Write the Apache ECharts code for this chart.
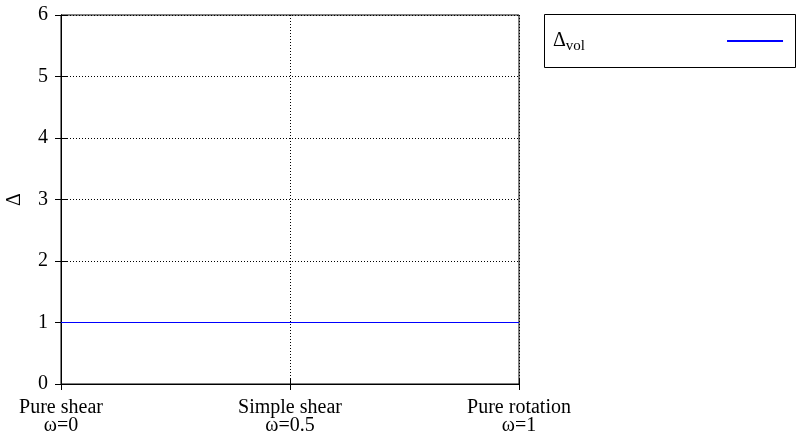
<!DOCTYPE html>
<html>
<head>
<meta charset="utf-8">
<script src="https://cdn.jsdelivr.net/npm/echarts@6/dist/echarts.min.js"></script>
<style>
  html, body { margin: 0; padding: 0; background: #fff; }
  #main { width: 796px; height: 435px; }
</style>
</head>
<body>
<div id="main"></div>
<script>
// flow type positions along x and their labels
const xTicks = [0, 0.5, 1]
const xLabels = ['Pure shear\nω=0', 'Simple shear\nω=0.5', 'Pure rotation\nω=1']
// Δ_vol stays constant
const omega = [0, 1]
const deltaVol = [1, 1]

const font = 'Liberation Serif'
const chart = echarts.init(document.getElementById('main'))

const lineData = omega.map((w, i) => [w, deltaVol[i]])

chart.setOption({
  backgroundColor: '#fff',
  animation: false,
  textStyle: { fontFamily: font },
  grid: {
    left: 61, right: 277, top: 15, bottom: 51,
    outerBoundsMode: 'none',
    containLabel: false,
    show: true, borderColor: '#000', borderWidth: 1
  },
  legend: {
    data: ['vol'],
    left: 548, top: 26,
    align: 'right',
    itemWidth: 56,
    itemHeight: 10,
    icon: 'path://M0,4 L56,4 L56,6 L0,6 Z',
    formatter: function () { return '{a|Δ}{b|vol}{c|}' },
    textStyle: {
      rich: {
        a: { fontFamily: font, fontSize: 20, color: '#000' },
        b: { fontFamily: font, fontSize: 15, color: '#000', padding: [10, 0, 0, 0] },
        c: { width: 137 }
      }
    }
  },
  graphic: [{
    type: 'rect',
    shape: { x: 544.5, y: 14.5, width: 251, height: 53 },
    style: { fill: 'none', stroke: '#000', lineWidth: 1 }
  }],
  xAxis: [{
    type: 'value', min: 0, max: 1, interval: 0.5,
    axisLine: { show: true, lineStyle: { color: '#000' } },
    axisTick: { show: true, inside: true, length: 6, lineStyle: { color: '#000' } },
    splitLine: { show: true, lineStyle: { color: '#000', type: [1, 2], width: 1 } },
    axisLabel: {
      margin: 15, fontSize: 20, lineHeight: 18, color: '#000', fontFamily: font,
      showMinLabel: true, showMaxLabel: true,
      formatter: function (v) { return xLabels[xTicks.indexOf(v)] }
    }
  }, {
    type: 'value', min: 0, max: 1, interval: 0.5, position: 'top',
    axisLine: { show: true, lineStyle: { color: '#000' } },
    axisTick: { show: true, inside: true, length: 6, lineStyle: { color: '#000' } },
    axisLabel: { show: false },
    splitLine: { show: false }
  }],
  yAxis: [{
    type: 'value', min: 0, max: 6, interval: 1,
    name: 'Δ', nameLocation: 'middle', nameGap: 36, nameRotate: 90,
    nameTextStyle: { fontSize: 20, color: '#000', fontFamily: font },
    axisLine: { show: true, lineStyle: { color: '#000' } },
    axisTick: { show: true, inside: true, length: 6, lineStyle: { color: '#000' } },
    splitLine: { show: true, lineStyle: { color: '#000', type: [1, 2], width: 1 } },
    axisLabel: { margin: 13, fontSize: 20, color: '#000', fontFamily: font }
  }, {
    type: 'value', min: 0, max: 6, interval: 1, position: 'right',
    axisLine: { show: true, lineStyle: { color: '#000' } },
    axisTick: { show: true, inside: true, length: 6, lineStyle: { color: '#000' } },
    axisLabel: { show: false },
    splitLine: { show: false }
  }],
  series: [{
    name: 'vol',
    type: 'line',
    data: lineData,
    showSymbol: false,
    color: '#0000ff',
    lineStyle: { width: 1, color: '#0000ff' }
  }]
})
</script>
</body>
</html>
